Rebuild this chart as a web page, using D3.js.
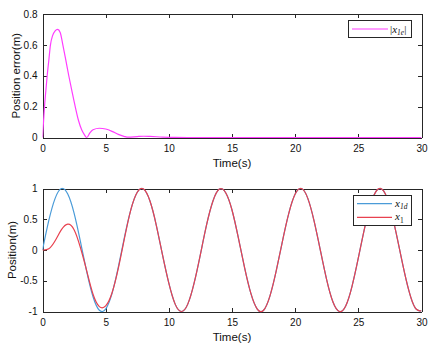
<!DOCTYPE html>
<html><head><meta charset="utf-8">
<script src="https://cdn.jsdelivr.net/npm/d3@7"></script>
<style>
body{margin:0;background:#fff;}
svg{display:block;font-family:"Liberation Sans",Arial,sans-serif;}
</style></head>
<body><svg id="c" width="436" height="354"></svg>
<script>
// ---- data ----
const errTime = [0,0.08,0.16,0.25,0.37,0.5,0.63,0.8,1.0,1.2,1.4,1.61,1.85,2.08,2.33,2.59,2.85,3.1,3.3,3.5,3.75,4.0,4.5,5.0,5.5,6.0,6.5,6.8,7.5,8.0,8.5,9.5,10.5,12,15,20,25,30];
const errVals = [0,0.1,0.2,0.29,0.4,0.5,0.6,0.66,0.69,0.70,0.68,0.6,0.5,0.4,0.3,0.2,0.11,0.05,0.02,0,0.03,0.05,0.06,0.055,0.04,0.02,0.006,0.002,0.006,0.008,0.007,0.003,0.001,0,0,0,0,0];

const posTime = [0,0.5,1,1.5,2,2.5,3,3.5,4,4.5,5,5.5,6,6.5,7,7.5,8,8.5,9,9.5,10,10.5,11,11.5,12,12.5,13,13.5,14,14.5,15,15.5,16,16.5,17,17.5,18,18.5,19,19.5,20,20.5,21,21.5,22,22.5,23,23.5,24,24.5,25,25.5,26,26.5,27,27.5,28,28.5,29,29.5,30];
const x1dVals = [0,0.48,0.84,1.00,0.91,0.60,0.14,-0.35,-0.76,-0.98,-0.96,-0.71,-0.28,0.22,0.66,0.94,0.99,0.80,0.41,-0.08,-0.54,-0.88,-1.00,-0.88,-0.54,-0.07,0.42,0.80,0.99,0.93,0.65,0.20,-0.29,-0.71,-0.96,-0.98,-0.75,-0.34,0.15,0.60,0.91,1.00,0.84,0.47,-0.01,-0.49,-0.85,-1.00,-0.91,-0.59,-0.13,0.36,0.76,0.98,0.96,0.70,0.27,-0.22,-0.66,-0.94,-0.99];
const x1Vals  = [0,0.02,0.15,0.33,0.42,0.33,0.04,-0.34,-0.72,-0.92,-0.91,-0.70,-0.30,0.20,0.66,0.94,0.99,0.80,0.41,-0.08,-0.54,-0.88,-1.00,-0.88,-0.54,-0.07,0.42,0.80,0.99,0.93,0.65,0.20,-0.29,-0.71,-0.96,-0.98,-0.75,-0.34,0.15,0.60,0.91,1.00,0.84,0.47,-0.01,-0.49,-0.85,-1.00,-0.91,-0.59,-0.13,0.36,0.76,0.98,0.96,0.70,0.27,-0.22,-0.66,-0.94,-0.99];

const xTicks = [0,5,10,15,20,25,30];
const yTicksTop = [0,0.2,0.4,0.6,0.8];
const yTicksBot = [-1,-0.5,0,0.5,1];

// ---- layout ----
const svg = d3.select("#c");
const L = 42.5, R = 421.5;
const axisCol = "#262626";
const x = d3.scaleLinear().domain([0,30]).range([L,R]);

function panel(top, bottom, yDomain, yTicks, yLabel, yLabelX, id){
  const y = d3.scaleLinear().domain(yDomain).range([bottom, top]);
  svg.append("clipPath").attr("id", id).append("rect")
    .attr("x", L).attr("y", top-1).attr("width", R-L).attr("height", bottom-top+2);
  const fmt = d => String(d);
  // bottom axis
  const gb = svg.append("g").attr("transform", `translate(0,${bottom})`)
    .call(d3.axisBottom(x).tickValues(xTicks).tickSize(-4).tickSizeOuter(0).tickPadding(7).tickFormat(fmt));
  // top axis
  svg.append("g").attr("transform", `translate(0,${top})`)
    .call(d3.axisTop(x).tickValues(xTicks).tickSize(-4).tickSizeOuter(0).tickFormat(""));
  // left axis
  svg.append("g").attr("transform", `translate(${L},0)`)
    .call(d3.axisLeft(y).tickValues(yTicks).tickSize(-4).tickSizeOuter(0).tickPadding(5).tickFormat(fmt));
  // right axis
  svg.append("g").attr("transform", `translate(${R},0)`)
    .call(d3.axisRight(y).tickValues(yTicks).tickSize(-4).tickSizeOuter(0).tickFormat(""));
  svg.selectAll(".domain, .tick line").attr("stroke", axisCol).attr("shape-rendering","crispEdges");
  svg.selectAll(".tick text").attr("fill", "#111").attr("font-size", 10)
     .attr("font-family", "'Liberation Sans',Arial,sans-serif");
  // labels
  svg.append("text").attr("x", (L+R)/2).attr("y", bottom + 29)
    .attr("text-anchor","middle").attr("font-size", 11.5).attr("fill","#111").text("Time(s)");
  svg.append("text").attr("transform", `translate(${yLabelX},${(top+bottom)/2}) rotate(-90)`)
    .attr("text-anchor","middle").attr("dy","0.35em").attr("font-size", 11.5).attr("fill","#111").text(yLabel);
  return y;
}

// top panel
const yT = panel(14, 137.5, [0,0.8], yTicksTop, "Position error(m)", 16, "clipT");
const errData = errTime.map((t,i)=>[t, errVals[i]]);
svg.append("path").datum(errData).attr("clip-path","url(#clipT)")
  .attr("fill","none").attr("stroke","#ff3cff").attr("stroke-width",1.2)
  .attr("d", d3.line().x(d=>x(d[0])).y(d=>yT(d[1])).curve(d3.curveMonotoneX));

// bottom panel
const yB = panel(188.5, 311.5, [-1,1], yTicksBot, "Position(m)", 12, "clipB");
const line = d3.line().x(d=>x(d[0])).y(d=>yB(d[1])).curve(d3.curveNatural);
svg.append("path").datum(posTime.map((t,i)=>[t,x1dVals[i]])).attr("clip-path","url(#clipB)")
  .attr("fill","none").attr("stroke","#4a9bd8").attr("stroke-width",1.2).attr("d", line);
svg.append("path").datum(posTime.map((t,i)=>[t,x1Vals[i]])).attr("clip-path","url(#clipB)")
  .attr("fill","none").attr("stroke","#e8414f").attr("stroke-width",1.2).attr("d", line);

// legends
function mathLabel(g, xPos, yPos, base, sub, bars){
  const t = g.append("text").attr("x", xPos).attr("y", yPos)
    .attr("font-family","'Liberation Serif','DejaVu Serif',serif").attr("font-size", 11).attr("fill","#111");
  if (bars) t.append("tspan").attr("font-style","normal").text("|");
  t.append("tspan").attr("font-style","italic").text(base);
  t.append("tspan").attr("font-size", 7.5).attr("dy", 2.5).attr("font-style", sub.length>1 ? "italic":"normal").text(sub);
  if (bars) t.append("tspan").attr("dy", -2.5).attr("font-style","normal").text("|");
}
const lg1 = svg.append("g");
lg1.append("rect").attr("x",348.5).attr("y",20.5).attr("width",63).attr("height",17)
  .attr("fill","#fff").attr("stroke",axisCol).attr("stroke-width",1);
lg1.append("line").attr("x1",352).attr("x2",388).attr("y1",29).attr("y2",29)
  .attr("stroke","#ff3cff").attr("stroke-width",1.2);
mathLabel(lg1, 390, 32.5, "x", "1e", true);

const lg2 = svg.append("g");
lg2.append("rect").attr("x",353.5).attr("y",195.5).attr("width",58).attr("height",30)
  .attr("fill","#fff").attr("stroke",axisCol).attr("stroke-width",1);
lg2.append("line").attr("x1",357).attr("x2",392).attr("y1",203.7).attr("y2",203.7)
  .attr("stroke","#4a9bd8").attr("stroke-width",1.2);
lg2.append("line").attr("x1",357).attr("x2",392).attr("y1",217.3).attr("y2",217.3)
  .attr("stroke","#e8414f").attr("stroke-width",1.2);
mathLabel(lg2, 395, 206.5, "x", "1d", false);
mathLabel(lg2, 395, 220, "x", "1", false);
</script></body></html>
